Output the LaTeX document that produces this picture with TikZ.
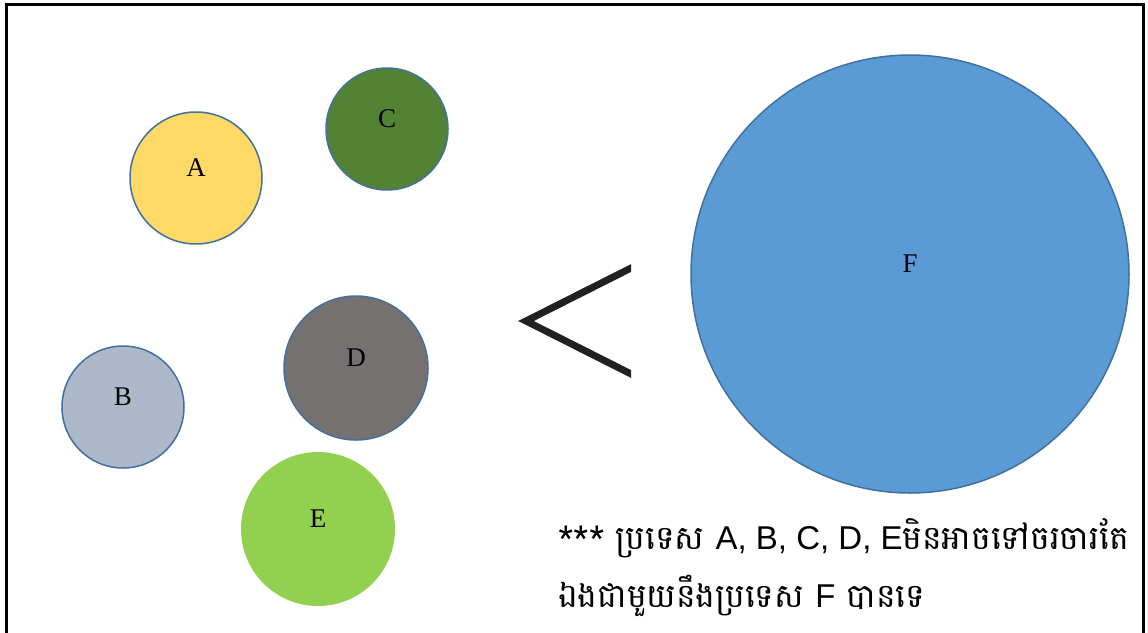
\documentclass[tikz,border=0pt]{standalone}
\usepackage{fontspec}
\setmainfont{Liberation Serif}
\newfontfamily\khfont[Script=Khmer]{Battambang}
\newfontfamily\latsans{Liberation Sans}
\definecolor{cA}{HTML}{FFD966}
\definecolor{cB}{HTML}{ADB9CA}
\definecolor{cC}{HTML}{548235}
\definecolor{cD}{HTML}{767171}
\definecolor{cE}{HTML}{92D050}
\definecolor{cF}{HTML}{5B9BD5}
\definecolor{edge}{HTML}{41719C}
\begin{document}
\begin{tikzpicture}[x=1pt,y=-1pt,
  ball/.style={circle,draw=edge,line width=1.5pt,inner sep=0pt},
  lab/.style={inner sep=0pt,font=\fontsize{27}{30}\selectfont},
  note/.style={anchor=base west,font=\khfont\fontsize{33}{40}\selectfont,inner sep=0pt}]
\useasboundingbox (0,0) rectangle (1148,632);
\fill[white] (0,0) rectangle (1148,632);
\draw[line width=3pt] (6,640) -- (6,4) -- (1143.5,4) -- (1143.5,640);
\node[ball,fill=cA,minimum size=132pt] (A) at (196,178) {};
\node[ball,fill=cC,minimum size=122pt] (C) at (387,129) {};
\node[ball,fill=cB,minimum size=122pt] (B) at (123,407) {};
\node[ball,fill=cD,minimum size=144pt] (D) at (356,368) {};
\node[ball,draw=none,fill=cE,minimum size=154pt] (E) at (318,529) {};
\node[ball,fill=cF,minimum size=438pt] (F) at (910,274) {};
\foreach \n in {A,B,C,D,E,F}
  \node[lab] (l\n) at ([yshift=10pt]\n.center) {\n};
\coordinate (lt) at (640,263.5);
\coordinate (lm) at (526,321);
\coordinate (lb) at (640,378.5);
\begin{scope}
\clip (500,240) rectangle (631,400);
\draw[line width=7pt,color=black!87,miter limit=10] (lt) -- (lm) -- (lb);
\end{scope}
\node[note] (t1) at (558,549) {*** ប្រទេស {\latsans A, B, C, D, E}មិនអាចទៅចរចារតែ};
\node[note] (t2) at (558,607) {ឯងជាមួយនឹងប្រទេស {\latsans F} បានទេ};
\end{tikzpicture}
\end{document}
